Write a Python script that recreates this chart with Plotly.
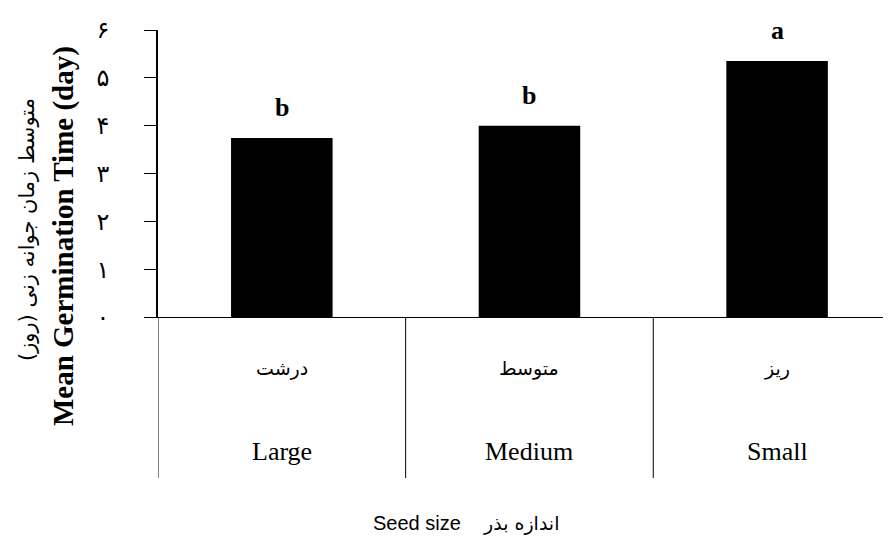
import plotly.graph_objects as go

categories = ["Large", "Medium", "Small"]
categories_fa = ["درشت", "متوسط", "ریز"]
mgt_values = [3.74, 4.0, 5.35]
letters = ["b", "b", "a"]
ytick_vals = [0, 1, 2, 3, 4, 5, 6]
ytick_text = ["۰", "۱", "۲", "۳", "۴", "۵", "۶"]
y_title_en = "Mean Germination Time (day)"
y_title_fa = "متوسط زمان جوانه زنی (روز)\u200f"
x_title_en = "Seed size"
x_title_fa = "اندازه بذر"

SERIF = "Liberation Serif, Times New Roman, serif"
FA = "DejaVu Sans, Noto Sans, sans-serif"

fig = go.Figure()
fig.add_trace(go.Bar(
    x=categories, y=mgt_values, width=0.41,
    marker=dict(color="black", line=dict(width=0)),
    showlegend=False, hoverinfo="skip",
))

annotations = []
for c, v, l in zip(categories, mgt_values, letters):
    annotations.append(dict(x=c, y=v, xref="x", yref="y", text=l, showarrow=False,
                            yanchor="bottom", yshift=14,
                            font=dict(family=SERIF, size=26, color="black", weight="bold")))
for c, fa in zip(categories, categories_fa):
    annotations.append(dict(x=c, y=-0.178, xref="x", yref="paper", text=fa, showarrow=False,
                            yanchor="middle", font=dict(family=FA, size=19, color="black")))
    annotations.append(dict(x=c, y=-0.47, xref="x", yref="paper", text=c, showarrow=False,
                            yanchor="middle", font=dict(family=SERIF, size=26, color="black")))

annotations += [
    dict(x=-0.1787, y=0.303, xref="paper", yref="paper", text=y_title_fa, textangle=-90,
         showarrow=False, xanchor="center", yanchor="middle",
         font=dict(family=FA, size=21, color="black")),
    dict(x=-0.1296, y=0.282, xref="paper", yref="paper", text=y_title_en, textangle=-90,
         showarrow=False, xanchor="center", yanchor="middle",
         font=dict(family=SERIF, size=29, color="black", weight="bold")),
    dict(x=(417 - 158) / 733, y=-0.718, xref="paper", yref="paper", text=x_title_en,
         showarrow=False, xanchor="center", yanchor="middle",
         font=dict(family="Liberation Sans, Arial, sans-serif", size=20, color="black")),
    dict(x=(521 - 158) / 733, y=-0.718, xref="paper", yref="paper", text=x_title_fa,
         showarrow=False, xanchor="center", yanchor="middle",
         font=dict(family=FA, size=19, color="black")),
]

shapes = []
for xv in [-0.5, 0.5, 1.5]:
    shapes.append(dict(type="line", xref="x", yref="paper", x0=xv, x1=xv, y0=0, y1=-0.561,
                       line=dict(color="black", width=1)))

fig.update_layout(
    width=883, height=538,
    margin=dict(l=150, r=0, t=22, b=229),
    paper_bgcolor="white", plot_bgcolor="white",
    annotations=annotations, shapes=shapes,
    xaxis=dict(range=[-0.5, 2.46], showline=True, linecolor="black", linewidth=1,
               showticklabels=False, ticks="", showgrid=False, zeroline=False),
    yaxis=dict(range=[0, 6], showline=True, linecolor="black", linewidth=1.5,
               ticks="outside", ticklen=12, tickcolor="black", tickwidth=1,
               tickvals=ytick_vals, ticktext=ytick_text, ticklabelstandoff=30,
               tickfont=dict(family=FA, size=24, color="black"),
               showgrid=False, zeroline=False),
)

fig.write_html("out.html")
